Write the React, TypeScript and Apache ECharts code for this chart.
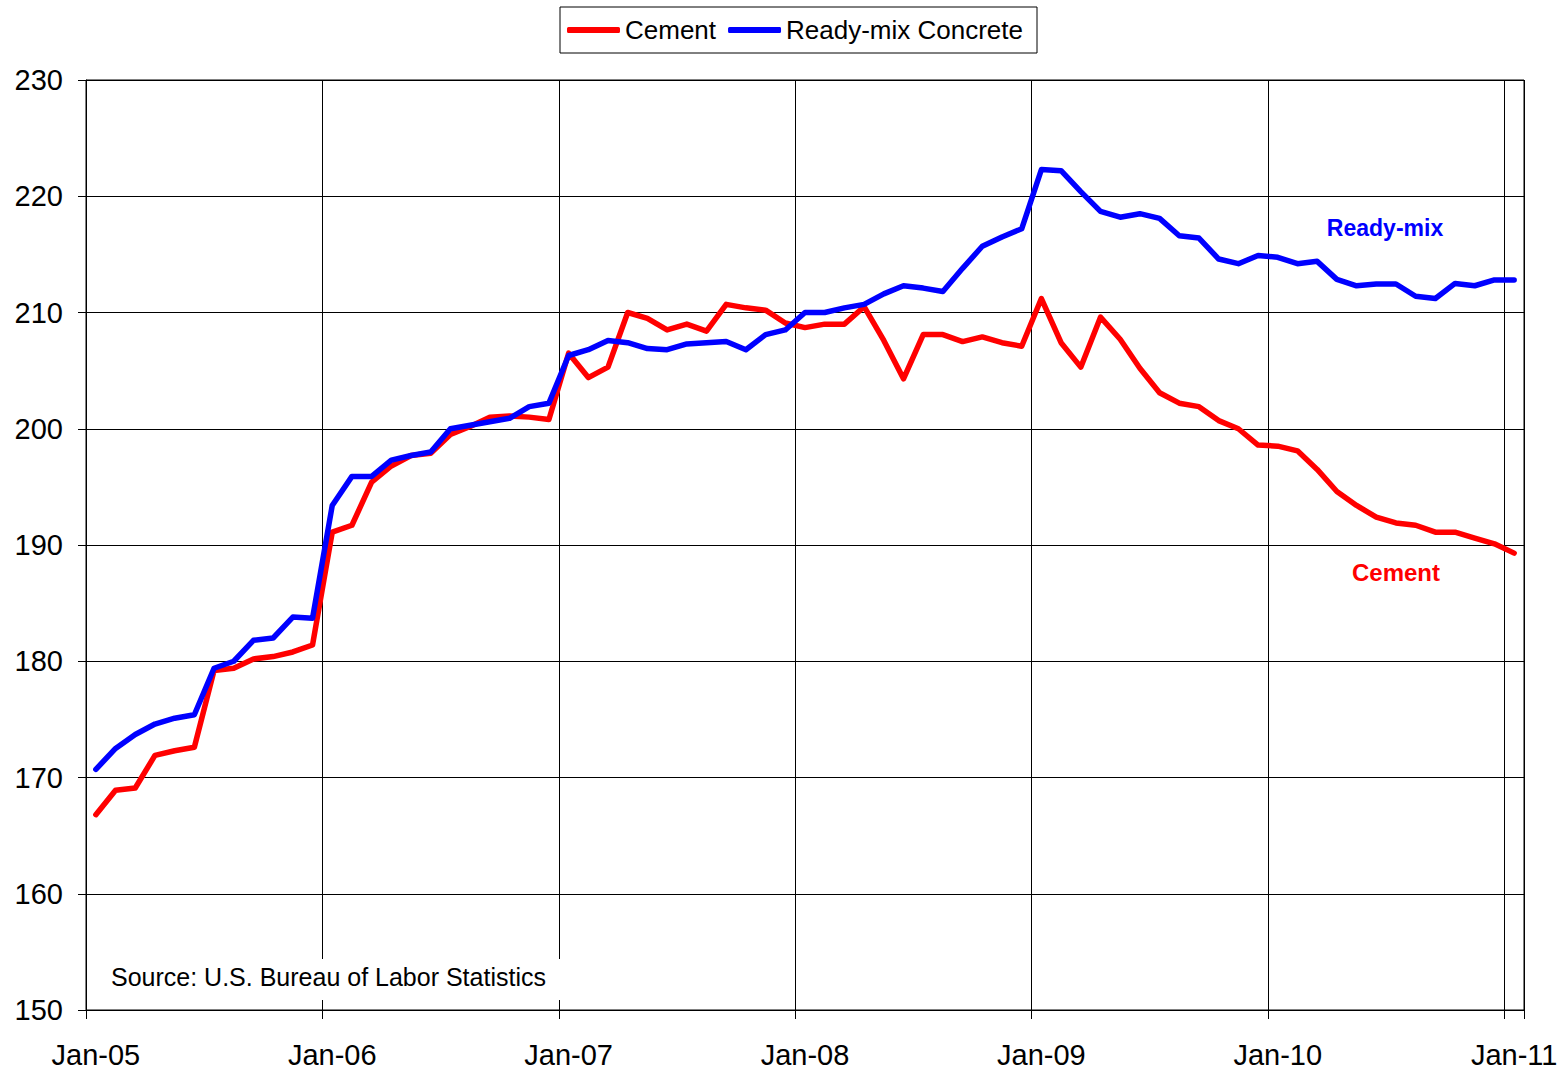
import React, { useEffect, useRef } from "react";
import * as echarts from "echarts";

const MONTHS = ["Jan", "Feb", "Mar", "Apr", "May", "Jun", "Jul", "Aug", "Sep", "Oct", "Nov", "Dec"];
const YEARS = ["05", "06", "07", "08", "09", "10", "11"];
const categories: string[] = [];
YEARS.forEach((y) => MONTHS.forEach((m) => categories.push(`${m}-${y}`)));
categories.length = 73; // Jan-05 .. Jan-11

const cement = [
  166.8, 168.9, 169.1, 171.9, 172.3, 172.6, 179.2, 179.4, 180.2, 180.4, 180.8, 181.4,
  191.1, 191.7, 195.4, 196.8, 197.7, 197.9, 199.5, 200.2, 201.0, 201.1, 201.0, 200.8,
  206.5, 204.4, 205.3, 210.0, 209.5, 208.5, 209.0, 208.4, 210.7, 210.4, 210.2, 209.1,
  208.7, 209.0, 209.0, 210.5, 207.6, 204.3, 208.1, 208.1, 207.5, 207.9, 207.4, 207.1,
  211.2, 207.4, 205.3, 209.6, 207.7, 205.2, 203.1, 202.2, 201.9, 200.7, 200.0, 198.6,
  198.5, 198.1, 196.5, 194.6, 193.4, 192.4, 191.9, 191.7, 191.1, 191.1, 190.6, 190.1,
  189.3,
];

const readyMix = [
  170.7, 172.5, 173.7, 174.6, 175.1, 175.4, 179.4, 180.0, 181.8, 182.0, 183.8, 183.7,
  193.4, 195.9, 195.9, 197.3, 197.7, 198.0, 200.0, 200.3, 200.6, 200.9, 201.9, 202.2,
  206.3, 206.8, 207.6, 207.4, 206.9, 206.8, 207.3, 207.4, 207.5, 206.8, 208.1, 208.5,
  210.0, 210.0, 210.4, 210.7, 211.6, 212.3, 212.1, 211.8, 213.8, 215.7, 216.5, 217.2,
  222.3, 222.2, 220.4, 218.7, 218.2, 218.5, 218.1, 216.6, 216.4, 214.6, 214.2, 214.9,
  214.75, 214.2, 214.4, 212.85, 212.3, 212.45, 212.45, 211.4, 211.2, 212.5, 212.3, 212.8,
  212.8,
];

const SERIES_NAMES = ["Cement", "Ready-mix Concrete"];
const FONT = "'Liberation Sans', Arial, sans-serif";

export default function App() {
  const ref = useRef<HTMLDivElement>(null);
  useEffect(() => {
    if (!ref.current) return;
    const chart = echarts.init(ref.current, undefined, { renderer: "svg" });
    chart.setOption({
      animation: false,
      backgroundColor: "#fff",
      textStyle: { fontFamily: FONT },
      grid: {
        left: 86,
        right: 40,
        top: 80,
        bottom: 63,
        show: true,
        borderColor: "#000",
        borderWidth: 1,
        backgroundColor: "#fff",
      },
      legend: {
        left: 560,
        top: 7,
        padding: [10, 14, 10, 7],
        itemGap: 12,
        itemWidth: 53,
        itemHeight: 6,
        icon: "roundRect",
        borderColor: "#000",
        borderWidth: 1,
        backgroundColor: "#fff",
        textStyle: { fontSize: 26, color: "#000", fontFamily: FONT },
        data: SERIES_NAMES,
      },
      xAxis: {
        type: "category",
        boundaryGap: true,
        data: categories,
        axisLine: { show: true, lineStyle: { color: "#000", width: 1 } },
        axisTick: { show: true, interval: 11, length: 9, lineStyle: { color: "#000" } },
        axisLabel: {
          interval: 11,
          fontSize: 29,
          color: "#000",
          margin: 30,
          fontFamily: FONT,
        },
        splitLine: { show: true, interval: 11, lineStyle: { color: "#000", width: 1 } },
      },
      yAxis: {
        type: "value",
        min: 150,
        max: 230,
        interval: 10,
        axisLine: { show: true, lineStyle: { color: "#000", width: 1 } },
        axisTick: { show: true, length: 8, lineStyle: { color: "#000" } },
        axisLabel: { fontSize: 29, color: "#000", margin: 23, fontFamily: FONT },
        splitLine: { show: true, lineStyle: { color: "#000", width: 1 } },
      },
      series: [
        {
          name: SERIES_NAMES[0],
          type: "line",
          data: cement,
          showSymbol: false,
          symbol: "none",
          lineStyle: { color: "#ff0000", width: 5.5, cap: "round", join: "round" },
          itemStyle: { color: "#ff0000" },
          z: 2,
        },
        {
          name: SERIES_NAMES[1],
          type: "line",
          data: readyMix,
          showSymbol: false,
          symbol: "none",
          lineStyle: { color: "#0000ff", width: 5.5, cap: "round", join: "round" },
          itemStyle: { color: "#0000ff" },
          z: 3,
        },
      ],
      graphic: [
        {
          type: "rect",
          shape: { x: 98, y: 959, width: 462, height: 41 },
          style: { fill: "#fff" },
          z: 10,
        },
        {
          type: "text",
          x: 111,
          y: 977,
          style: {
            text: "Source: U.S. Bureau of Labor Statistics",
            fontSize: 25,
            fontFamily: FONT,
            fill: "#000",
            textVerticalAlign: "middle",
          },
          z: 11,
        },
        {
          type: "text",
          x: 1385,
          y: 228,
          style: {
            text: "Ready-mix",
            fontSize: 23,
            fontWeight: "bold",
            fontFamily: FONT,
            fill: "#0000ff",
            textAlign: "center",
            textVerticalAlign: "middle",
          },
          z: 11,
        },
        {
          type: "text",
          x: 1396,
          y: 572,
          style: {
            text: "Cement",
            fontSize: 24,
            fontWeight: "bold",
            fontFamily: FONT,
            fill: "#ff0000",
            textAlign: "center",
            textVerticalAlign: "middle",
          },
          z: 11,
        },
      ],
    });
    return () => chart.dispose();
  }, []);
  return (
    <div
      ref={ref}
      style={{ position: "absolute", left: 0, top: 0, width: 1564, height: 1073 }}
    />
  );
}
